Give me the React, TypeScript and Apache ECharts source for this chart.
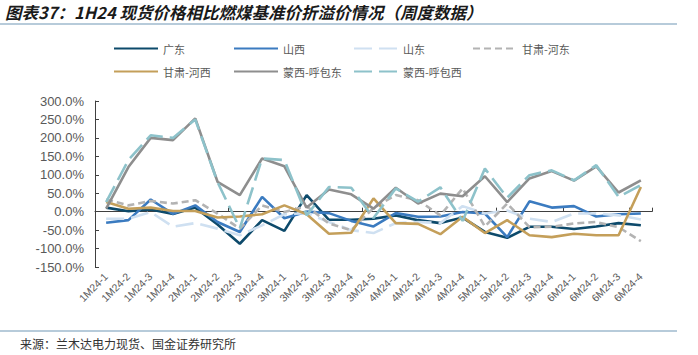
import React, { useEffect, useRef } from "react";
import * as echarts from "echarts";

const categories = ["1M24-1","1M24-2","1M24-3","1M24-4","2M24-1","2M24-2","2M24-3","2M24-4","3M24-1","3M24-2","3M24-3","3M24-4","3M24-5","4M24-1","4M24-2","4M24-3","4M24-4","5M24-1","5M24-2","5M24-3","5M24-4","6M24-1","6M24-2","6M24-3","6M24-4"];

const guangdong = [11, 1, 6, -6, 11, -35, -87, -23, -52, 45, -22, -22, -19, -10, -23, -31, -16, -55, -71, -41, -41, -47, -40, -31, -37];
const shanxi = [-30, -23, 33, -6, 17, -28, -55, 40, -18, 0, -4, -25, -40, -4, -14, -13, -1, -5, -69, 28, 11, 15, -13, -7, -5];
const shandong = [-19, -19, -1, -41, -31, -46, -64, -37, -7, -4, -28, -50, -58, -31, -28, -31, 15, -5, 3, -19, -28, -5, -5, -10, -21];
const gansuHedong = [33, 17, 29, 22, 31, -5, -46, 17, -1, 15, -32, -50, 10, 45, 31, -10, 63, -40, 22, -42, -41, -32, -28, -42, -80];
const gansuHexi = [26, 8, 11, 2, 2, -16, -13, -7, 17, -7, -60, -57, 36, -31, -33, -61, -14, -58, -23, -64, -69, -60, -64, -64, 67];
const mengxiDong = [8, 121, 200, 194, 253, 81, 45, 144, 123, 11, 60, 47, 8, 65, 22, 49, 42, 96, 26, 90, 110, 84, 123, 52, 85];
const mengxiXi = [26, 140, 207, 200, 250, 80, -45, 144, 140, -10, 67, 65, -17, 63, 27, 66, -25, 117, 38, 99, 112, 85, 126, 40, 72];

const seriesNames = ["广东", "山西", "山东", "甘肃-河东", "甘肃-河西", "蒙西-呼包东", "蒙西-呼包西"];
const seriesData = [guangdong, shanxi, shandong, gansuHedong, gansuHexi, mengxiDong, mengxiXi];
const seriesColors = ["#0D4A6B", "#3B7BC0", "#CFE0F1", "#B3B3B3", "#C49F5A", "#8E8E8E", "#8DC2CA"];
const seriesDash: any[] = ["solid", "solid", [18, 7], [7, 4], "solid", "solid", [18, 7]];

const legendLeft = [113, 233, 353, 472, 113, 233, 353];
const legendTop = [43, 43, 43, 43, 66, 66, 66];

const CJK = '"Noto Sans CJK SC", "Noto Sans", sans-serif';
const LATIN = '"Liberation Sans", Arial, sans-serif';

export default function App() {
  const ref = useRef<HTMLDivElement>(null);
  useEffect(() => {
    if (!ref.current) return;
    const chart = echarts.init(ref.current, undefined, { renderer: "svg" });
    const option: any = {
      animation: false,
      backgroundColor: "#ffffff",
      legend: seriesNames.map((n, i) => ({
        data: [n],
        left: legendLeft[i],
        top: legendTop[i],
        itemWidth: 44,
        itemHeight: 14,
        itemGap: 0,
        padding: 0,
        itemStyle: { opacity: 0 },
        textStyle: { fontSize: 11, color: "#595959", fontFamily: CJK, padding: [0, 0, 0, 0] },
      })),
      grid: { left: 95, right: 46, top: 101, bottom: 88, containLabel: false },
      xAxis: [
        {
          type: "category",
          data: categories,
          boundaryGap: true,
          position: "bottom",
          axisLine: { show: false, onZero: false },
          axisTick: { show: false },
          axisLabel: { rotate: 45, interval: 0, fontSize: 10.5, color: "#595959", fontFamily: LATIN, margin: 8 },
        },
        {
          type: "category",
          data: categories,
          boundaryGap: true,
          position: "bottom",
          axisLine: { show: true, onZero: true, lineStyle: { color: "#404040", width: 1 } },
          axisTick: { show: true, inside: true, length: 4, lineStyle: { color: "#404040" } },
          axisLabel: { show: false },
        },
      ],
      yAxis: {
        type: "value",
        min: -150,
        max: 300,
        interval: 50,
        axisLine: { show: true, lineStyle: { color: "#404040", width: 1 } },
        axisTick: { show: true, inside: true, length: 4, lineStyle: { color: "#404040" } },
        splitLine: { show: false },
        axisLabel: {
          fontSize: 13,
          color: "#595959",
          fontFamily: LATIN,
          margin: 11,
          formatter: (v: number) => v.toFixed(1) + "%",
        },
      },
      series: seriesNames.map((n, i) => ({
        name: n,
        type: "line",
        xAxisIndex: 0,
        data: seriesData[i],
        symbol: "none",
        color: seriesColors[i],
        lineStyle: { width: 2.6, color: seriesColors[i], type: seriesDash[i], cap: "butt" },
      })),
      graphic: [
        {
          type: "text",
          x: 5,
          y: 12,
          style: {
            text: "图表37：1H24 现货价格相比燃煤基准价折溢价情况（周度数据）",
            font: 'italic bold 16.5px "Noto Sans CJK SC", sans-serif',
            fill: "#1a1a1a",
            verticalAlign: "middle",
          },
        },
        {
          type: "line",
          shape: { x1: 0, y1: 24, x2: 677, y2: 24 },
          style: { stroke: "#B7CBDA", lineWidth: 2 },
        },
        {
          type: "line",
          shape: { x1: 0, y1: 331, x2: 677, y2: 331 },
          style: { stroke: "#B7CBDA", lineWidth: 2 },
        },
        {
          type: "text",
          x: 20,
          y: 343,
          style: {
            text: "来源：兰木达电力现货、国金证券研究所",
            font: '12px "Noto Sans CJK SC", sans-serif',
            fill: "#333333",
            verticalAlign: "middle",
          },
        },
      ],
    };
    chart.setOption(option);
    return () => chart.dispose();
  }, []);
  return (
    <div
      ref={ref}
      style={{ position: "fixed", left: 0, top: 0, width: 698, height: 355, background: "#fff" }}
    />
  );
}
